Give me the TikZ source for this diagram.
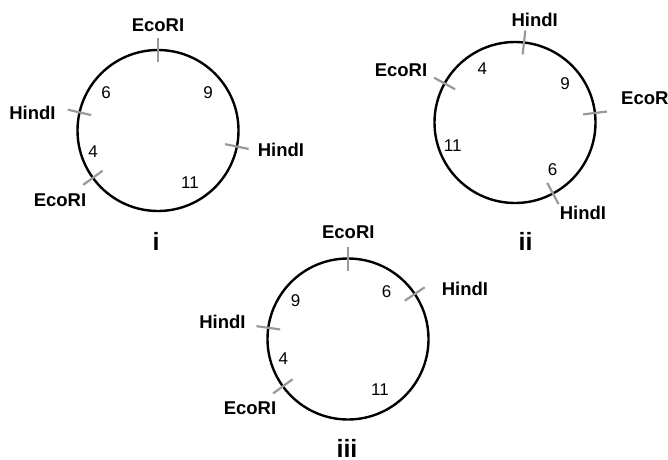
\documentclass[tikz,border=0pt]{standalone}
\usepackage{fontspec}
\setmainfont{Liberation Sans}
\begin{document}
\begin{tikzpicture}[x=1pt,y=1pt,
  ring/.style={draw=black, line width=2.4pt, circle, minimum size=161pt, inner sep=0pt},
  cut/.style={draw=gray!80, line width=2.2pt},
  enz/.style={font=\fontsize{18.5}{20}\selectfont\bfseries, inner sep=0pt},
  len/.style={font=\fontsize{17}{19}\selectfont, inner sep=0pt},
  tag/.style={font=\fontsize{25}{28}\selectfont\bfseries, inner sep=0pt}]
\useasboundingbox (0,0) rectangle (668,459);

% plasmid i
\node[ring] (pi) at (158,328.5) {};
\foreach \a in {90,167,216,-11.5}
  \draw[cut, shift={(pi.center)}] (\a:68.5) -- (\a:92.5);
\node[enz] (pi-e1) at (158,434) {EcoRI};
\node[enz] (pi-h1) at (32.5,346) {HindI};
\node[enz] (pi-h2) at (281,309) {HindI};
\node[enz] (pi-e2) at (60,259) {EcoRI};
\node[len] (pi-6) at (106,366) {6};
\node[len] (pi-9) at (208,366) {9};
\node[len] (pi-4) at (93,307) {4};
\node[len] (pi-11) at (190,276) {11};
\node[tag] (pi-tag) at (156,218) {i};

% plasmid ii
\node[ring] (pii) at (515,336.5) {};
\foreach \a in {83.6,151,6.8,-61.9}
  \draw[cut, shift={(pii.center)}] (\a:68.5) -- (\a:92.5);
\node[enz] (pii-h1) at (534.7,439) {HindI};
\node[enz] (pii-e1) at (401,389) {EcoRI};
\node[enz, anchor=west] (pii-e2) at (621,361) {EcoRI};
\node[enz] (pii-h2) at (583,246) {HindI};
\node[len] (pii-4) at (482.3,390) {4};
\node[len] (pii-9) at (565,375) {9};
\node[len] (pii-11) at (452.7,313) {11};
\node[len] (pii-6) at (552.7,289) {6};
\node[tag] (pii-tag) at (525.5,218) {ii};

% plasmid iii
\node[ring] (piii) at (348,120) {};
\foreach \a in {90,34,172,216}
  \draw[cut, shift={(piii.center)}] (\a:68.5) -- (\a:92.5);
\node[enz] (piii-e1) at (348.3,226.3) {EcoRI};
\node[enz] (piii-h1) at (465,170) {HindI};
\node[enz] (piii-h2) at (222.5,137.3) {HindI};
\node[enz] (piii-e2) at (250,50.7) {EcoRI};
\node[len] (piii-9) at (295.7,158.3) {9};
\node[len] (piii-6) at (386.7,167.3) {6};
\node[len] (piii-4) at (283.3,100) {4};
\node[len] (piii-11) at (380,69) {11};
\node[tag] (piii-tag) at (347,11) {iii};
\end{tikzpicture}
\end{document}
